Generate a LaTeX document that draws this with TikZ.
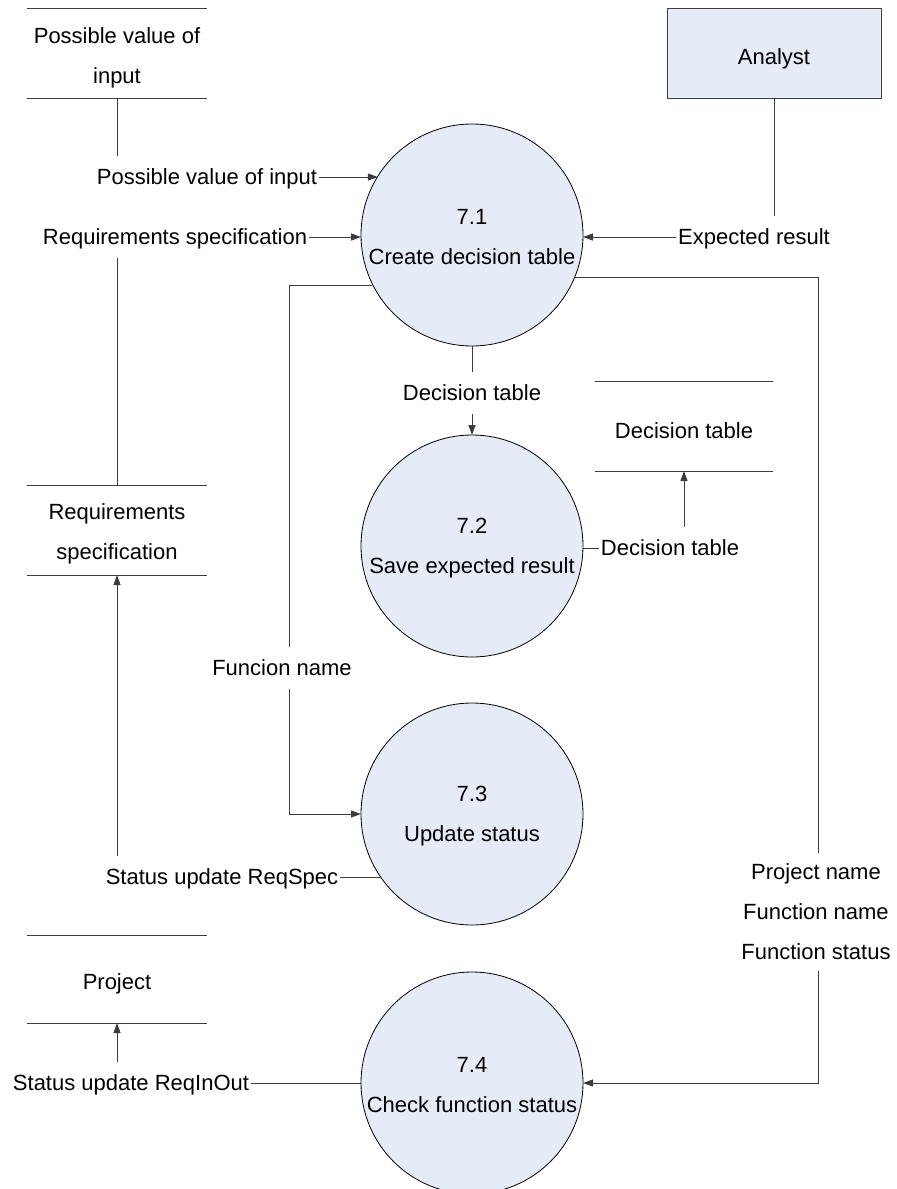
\documentclass[tikz,border=0pt]{standalone}
\usepackage{fontspec}
\setmainfont{Liberation Sans}
\usetikzlibrary{arrows.meta}
\definecolor{procfill}{RGB}{230,236,247}
\definecolor{linegray}{RGB}{60,60,60}

\tikzset{
  proc/.style={circle, draw=black, fill=procfill, line width=0.4pt, minimum size=111pt,
    inner sep=0pt, outer sep=0pt, align=center, text height=30pt, font=\fontsize{11}{20}\selectfont},
  store/.style={minimum width=90pt, minimum height=45pt, inner sep=0pt, outer sep=0pt,
    align=center, font=\fontsize{11}{20}\selectfont},
  extent/.style={rectangle, draw=linegray, fill=procfill, minimum width=107pt, minimum height=45pt,
    inner sep=0pt, outer sep=0pt, text height=13.5pt, font=\fontsize{11}{13}\selectfont},
  flowlabel/.style={inner xsep=1pt, inner ysep=4.4pt, outer sep=0pt, text height=10.2pt, text depth=2.3pt,
    font=\fontsize{11}{20}\selectfont},
  multilabel/.style={inner xsep=1pt, inner ysep=5.5pt, outer sep=0pt, align=center,
    font=\fontsize{11}{20}\selectfont},
  flow/.style={draw=linegray, line width=0.5pt},
  flowarrow/.style={flow, -{Triangle[length=5pt,width=3.5pt]}}
}

\begin{document}
\begin{tikzpicture}[x=0.5pt, y=-0.5pt]
\useasboundingbox (0,0) rectangle (897,1189);

% processes
\node[proc] (p71) at (472,235) {7.1\\Create decision table};
\node[proc] (p72) at (472,546) {7.2\\Save expected result};
\node[proc] (p73) at (472,814) {7.3\\Update status};
\node[proc] (p74) at (472,1083) {7.4\\Check function status};

% external entity
\node[extent] (ana) at (774,53) {Analyst};

% data stores
\node[store, text height=33pt] (dsinput) at (117,53) {Possible value of\\input};
\node[store, text height=32pt] (dsreq) at (117,530) {Requirements\\specification};
\node[store, text height=13pt, minimum width=89pt] (dsdec) at (684,426) {Decision table};
\node[store, text height=13pt, minimum height=44pt] (dsproj) at (117,979) {Project};
\foreach \s in {dsinput,dsreq,dsdec,dsproj}
  \draw[flow] (\s.north west) -- (\s.north east) (\s.south west) -- (\s.south east);

% flow labels
\node[flowlabel] (lin) at (207,177) {Possible value of input};
\node[flowlabel] (lreq) at (175,237) {Requirements specification};
\node[flowlabel] (lexp) at (754,237) {Expected result};
\node[flowlabel] (ldec) at (472,393) {Decision table};
\node[flowlabel] (ldec2) at (670,548) {Decision table};
\node[flowlabel] (lfun) at (282,668) {Funcion name};
\node[flowlabel] (lreqspec) at (222,877) {Status update ReqSpec};
\node[flowlabel] (lreqio) at (131,1083) {Status update ReqInOut};
\node[multilabel] (lproj) at (816,912) {Project name\\Function name\\Function status};

\coordinate (cleft) at (289,285);
\coordinate (cright) at (818,277);

% flows into 7.1
\draw[flow] (dsinput.south) -- (lin.north -| dsinput.south);
\draw[flowarrow] (lin.east) -- (lin.east -| p71.148.5);
\draw[flow] (lreq.south -| dsreq.north) -- (dsreq.north);
\draw[flowarrow] (lreq.east) -- (lreq.east -| p71.west);
\draw[flow] (ana.south) -- (lexp.north -| ana.south);
\draw[flowarrow] (lexp.west) -- (lexp.west -| p71.east);

% 7.1 to 7.2 and the decision table store
\draw[flow] (p71.south) -- (ldec.north);
\draw[flowarrow] (ldec.south) -- (p72.north);
\draw[flow] (ldec2.west -| p72.east) -- (ldec2.west);
\draw[flowarrow] (ldec2.north -| dsdec.south) -- (dsdec.south);

% function name to 7.3
\draw[flow] (cleft -| p71.206.8) -- (cleft) -- (cleft |- lfun.north);
\draw[flowarrow] (cleft |- lfun.south) -- (cleft |- p73.west) -- (p73.west);
\draw[flow] (lreqspec.east -| p73.214.6) -- (lreqspec.east);
\draw[flowarrow] (lreqspec.north -| dsreq.south) -- (dsreq.south);

% project data to 7.4
\draw[flow] (cright -| p71.-22.2) -- (cright) -- (cright |- lproj.north);
\draw[flowarrow] (cright |- lproj.south) -- (cright |- p74.east) -- (p74.east);
\draw[flow] (p74.west) -- (lreqio.east);
\draw[flowarrow] (lreqio.north -| dsproj.south) -- (dsproj.south);
\end{tikzpicture}
\end{document}
